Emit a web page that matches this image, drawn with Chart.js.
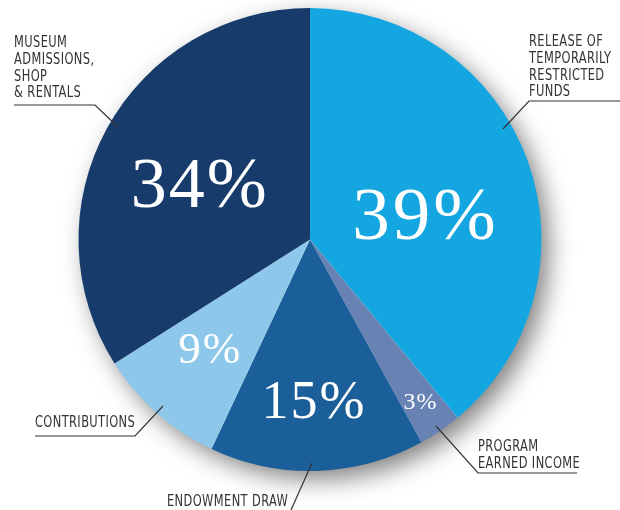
<!DOCTYPE html>
<html>
<head>
<meta charset="utf-8">
<script src="https://cdn.jsdelivr.net/npm/chart.js@4"></script>
<style>
  html, body { margin: 0; padding: 0; background: #fff; }
  #wrap { width: 620px; height: 510px; }
</style>
</head>
<body>
<div id="wrap"><canvas id="myChart" width="620" height="510"></canvas></div>
<script>
// data
var categories = ["Release of temporarily restricted funds", "Program earned income", "Endowment draw", "Contributions", "Museum admissions, shop & rentals"];
var shares = [39, 3, 15, 9, 34];
var pctLabels = ["39%", "3%", "15%", "9%", "34%"];
var sliceColors = ["#14a6e0", "#6883b3", "#1a5e9a", "#8dc7ea", "#173c6c"];

// where the big percent labels sit: [angle deg, fraction of radius, font px]
var pctPlace = [[-10, 0.50, 75], [56, 0.85, 24], [89, 0.71, 54], [132, 0.65, 45], [205, 0.53, 72]];

// callout texts and their leader lines
var callouts = [
  {lines: ["RELEASE OF", "TEMPORARILY", "RESTRICTED", "FUNDS"], x: 529, y: 46, path: [[620, 101], [529, 101], [503, 129]]},
  {lines: ["PROGRAM", "EARNED INCOME"], x: 478, y: 451, path: [[577, 473], [478, 473], [436, 426]]},
  {lines: ["ENDOWMENT DRAW"], x: 167, y: 506, path: [[291, 510], [312, 463]]},
  {lines: ["CONTRIBUTIONS"], x: 35, y: 427, path: [[35, 436], [135, 436], [163, 406]]},
  {lines: ["MUSEUM", "ADMISSIONS,", "SHOP", "& RENTALS"], x: 14, y: 47, path: [[14, 105], [95, 105], [118, 127]]}
];

var shadowPlugin = {
  id: "pieShadow",
  beforeDatasetsDraw: function(chart) {
    var arc = chart.getDatasetMeta(0).data[0];
    var ctx = chart.ctx;
    ctx.save();
    ctx.shadowColor = "rgba(0,0,0,0.5)";
    ctx.shadowBlur = 24;
    ctx.shadowOffsetX = 8;
    ctx.shadowOffsetY = 9;
    ctx.fillStyle = "#ffffff";
    ctx.beginPath();
    ctx.arc(arc.x, arc.y, arc.outerRadius - 1, 0, Math.PI * 2);
    ctx.fill();
    ctx.restore();
  }
};

var labelPlugin = {
  id: "pieLabels",
  afterDatasetsDraw: function(chart) {
    var ctx = chart.ctx;
    var arc = chart.getDatasetMeta(0).data[0];
    ctx.save();
    // percent labels
    ctx.fillStyle = "#ffffff";
    ctx.textAlign = "center";
    ctx.textBaseline = "middle";
    pctLabels.forEach(function(t, i) {
      var p = pctPlace[i];
      var a = p[0] * Math.PI / 180;
      var r = arc.outerRadius * p[1];
      var sp = Math.round(p[2] / 30);
      ctx.letterSpacing = sp + "px";
      ctx.font = p[2] + "px 'Liberation Serif', 'DejaVu Serif', serif";
      ctx.fillText(t, arc.x + Math.cos(a) * r + sp / 2, arc.y + Math.sin(a) * r);
    });
    // callouts, condensed text
    ctx.textAlign = "left";
    ctx.textBaseline = "alphabetic";
    ctx.fillStyle = "#333333";
    ctx.strokeStyle = "#333333";
    ctx.lineWidth = 1.2;
    ctx.font = "16.5px 'DejaVu Sans Condensed', sans-serif";
    ctx.letterSpacing = "0.5px";
    var sx = 0.77;
    callouts.forEach(function(c) {
      c.lines.forEach(function(l, j) {
        ctx.save();
        ctx.translate(c.x, c.y + j * 16.8);
        ctx.scale(sx, 1);
        ctx.fillText(l, 0, 0);
        ctx.restore();
      });
      ctx.beginPath();
      c.path.forEach(function(pt, k) {
        if (k === 0) ctx.moveTo(pt[0], pt[1]); else ctx.lineTo(pt[0], pt[1]);
      });
      ctx.stroke();
    });
    ctx.restore();
  }
};

new Chart("myChart", {
  type: "pie",
  data: {
    labels: categories,
    datasets: [{
      data: shares,
      backgroundColor: sliceColors,
      borderWidth: 0
    }]
  },
  options: {
    responsive: false,
    animation: false,
    layout: { padding: { top: 8, bottom: 39, left: 0, right: 0 } },
    plugins: {
      legend: { display: false },
      tooltip: { enabled: false }
    }
  },
  plugins: [shadowPlugin, labelPlugin]
});
</script>
</body>
</html>
